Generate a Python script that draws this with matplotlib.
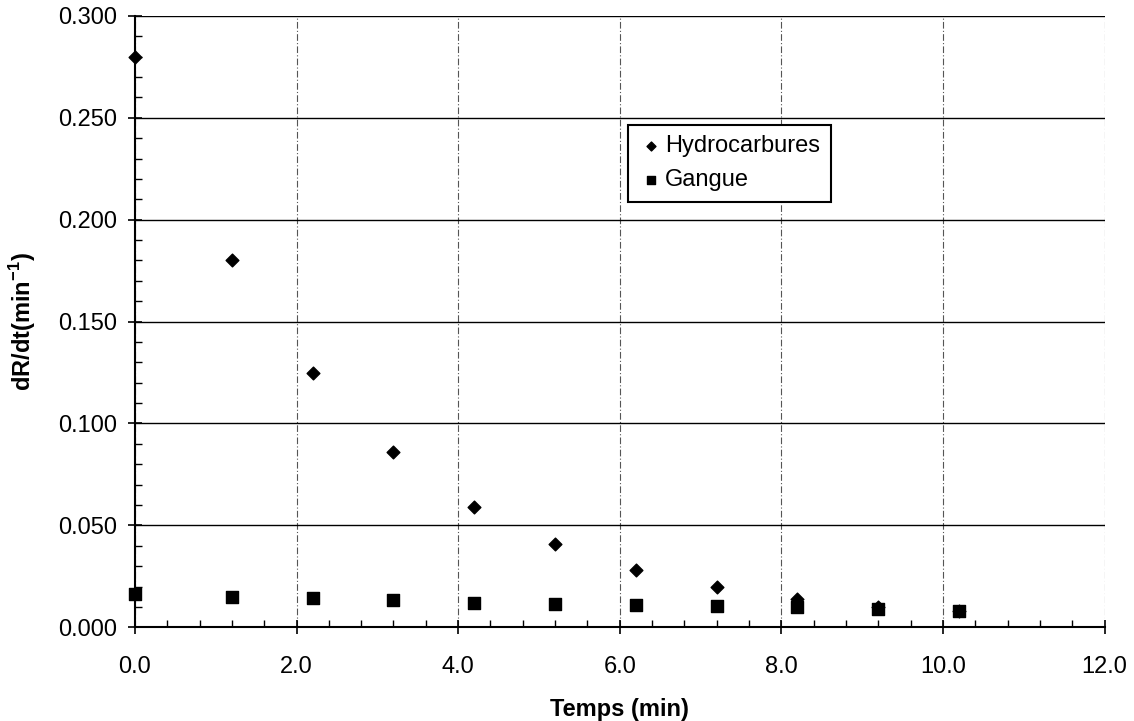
import matplotlib.pyplot as plt
from matplotlib.ticker import MultipleLocator

plt.rcParams['font.family'] = ['Liberation Sans', 'DejaVu Sans']
plt.rcParams['mathtext.fontset'] = 'custom'
plt.rcParams['mathtext.rm'] = 'Liberation Sans'
plt.rcParams['mathtext.bf'] = 'Liberation Sans:bold'

temps = [0.0, 1.2, 2.2, 3.2, 4.2, 5.2, 6.2, 7.2, 8.2, 9.2, 10.2]
hydrocarbures = [0.280, 0.180, 0.125, 0.086, 0.059, 0.041, 0.028, 0.020, 0.014, 0.010, 0.008]
gangue = [0.0165, 0.0147, 0.0142, 0.0133, 0.0118, 0.0113, 0.0108, 0.0103, 0.0098, 0.0088, 0.0079]

fig = plt.figure(figsize=(11.34, 7.21), dpi=100)
ax = fig.add_axes([0.119, 0.130, 0.855, 0.848])

ax.scatter(temps, hydrocarbures, marker='D', s=42, color='black', label='Hydrocarbures',
           zorder=3, clip_on=False)
ax.scatter(temps, gangue, marker='s', s=80, color='black', label='Gangue',
           zorder=3, clip_on=False)

ax.set_xlim(0, 12)
ax.set_ylim(0, 0.3)
ax.xaxis.set_major_locator(MultipleLocator(2))
ax.xaxis.set_minor_locator(MultipleLocator(0.4))
ax.yaxis.set_major_locator(MultipleLocator(0.05))
ax.yaxis.set_minor_locator(MultipleLocator(0.01))
ax.xaxis.set_major_formatter(lambda v, p: f"{v:.1f}")
ax.yaxis.set_major_formatter(lambda v, p: f"{v:.3f}")

ax.tick_params(which='major', direction='inout', length=10, width=1.2, labelsize=17, pad=8)
ax.tick_params(which='minor', direction='in', length=5, width=1)
ax.tick_params(axis='x', which='major', pad=16)

# grid: solid horizontal, dashed vertical
ax.yaxis.grid(True, which='major', color='black', linewidth=1.0, linestyle='-')
ax.xaxis.grid(True, which='major', color='#555555', linewidth=0.8, linestyle=(0, (6, 2, 1, 2)))
ax.set_axisbelow(True)

for side in ['top', 'right']:
    ax.spines[side].set_visible(False)
ax.spines['left'].set_linewidth(1.5)
ax.spines['bottom'].set_linewidth(1.5)

ax.set_xlabel('Temps (min)', fontsize=17, fontweight='bold', labelpad=14)
ax.set_ylabel(r'dR/dt(min$^{\mathbf{-1}}$)', fontsize=17, fontweight='bold', labelpad=14)

leg = ax.legend(loc='upper left', bbox_to_anchor=(0.509, 0.822), borderaxespad=0,
                frameon=True, fancybox=False, fontsize=17, handletextpad=0.1,
                handlelength=1.0, borderpad=0.45, labelspacing=0.5, scatterpoints=1,
                markerscale=0.7)
leg.get_frame().set_edgecolor('black')
leg.get_frame().set_linewidth(1.5)
leg.get_frame().set_alpha(1)

fig.savefig('out.png', dpi=100)
